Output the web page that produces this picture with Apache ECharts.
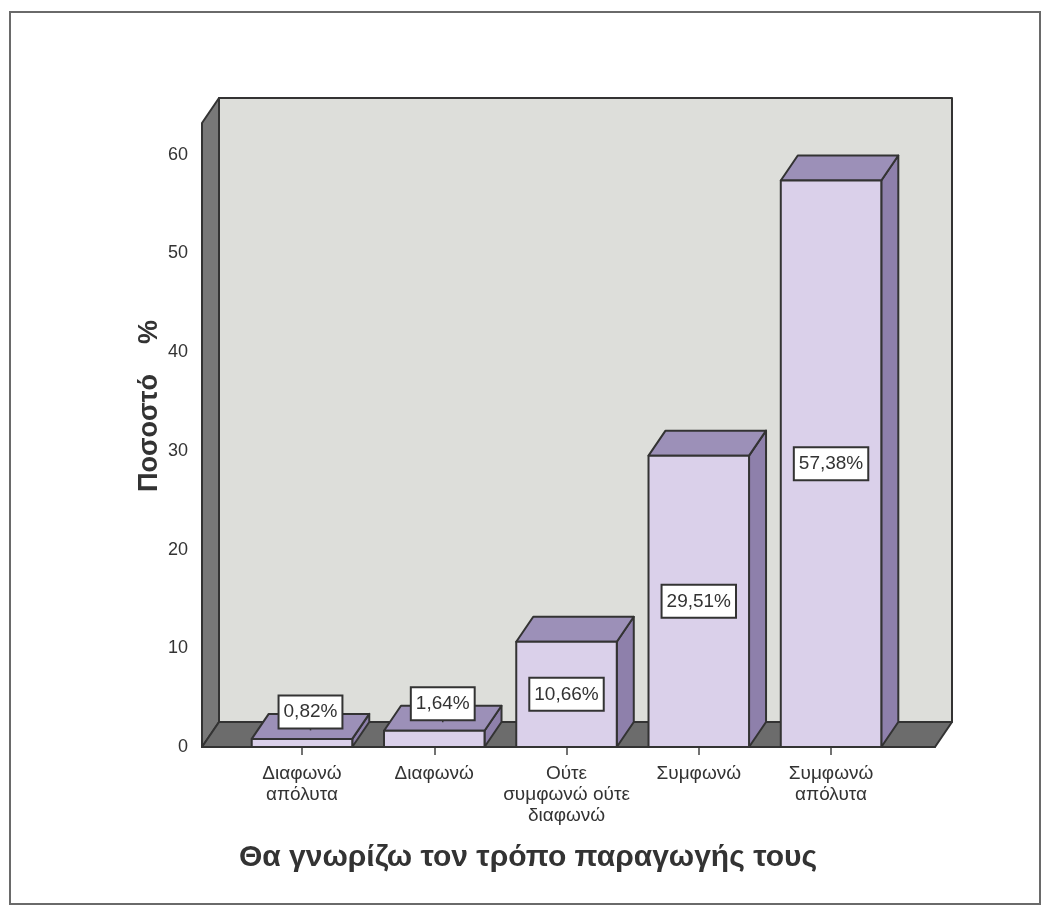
<!DOCTYPE html>
<html>
<head>
<meta charset="utf-8">
<script src="https://cdn.jsdelivr.net/npm/echarts@6/dist/echarts.min.js"></script>
<style>
  html, body { margin: 0; padding: 0; background: #ffffff; }
  #chart { width: 1052px; height: 916px; }
</style>
</head>
<body>
<div id="chart"></div>
<script>
// Response categories, their percentages and the printed value labels
const categories = ['Διαφωνώ\nαπόλυτα', 'Διαφωνώ', 'Ούτε\nσυμφωνώ ούτε\nδιαφωνώ', 'Συμφωνώ', 'Συμφωνώ\nαπόλυτα'];
const percentages = [0.82, 1.64, 10.66, 29.51, 57.38];
const valueLabels = ['0,82%', '1,64%', '10,66%', '29,51%', '57,38%'];
const yTicks = [0, 10, 20, 30, 40, 50, 60];
const xTitle = 'Θα γνωρίζω τον τρόπο παραγωγής τους';
const yTitle = 'Ποσοστό    %';

// Axis extents (category index units on x, percent on y)
const X_MIN = -0.756, X_MAX = 4.786, Y_MAX = 63.2;
// 3D depth offset of the walls and bars, in pixels
const DX = 17, DY = -25;
const BAR_W = 0.76;
const FONT = "'Liberation Sans', Arial, sans-serif";
const INK = '#333333';

const chart = echarts.init(document.getElementById('chart'), null, { renderer: 'canvas' });

function shift(p) { return [p[0] + DX, p[1] + DY]; }

// Back wall, left wall and floor of the 3D box
function renderWalls(params, api) {
  const fl = api.coord([X_MIN, 0]);
  const fr = api.coord([X_MAX, 0]);
  const tl = api.coord([X_MIN, Y_MAX]);
  const edge = { stroke: INK, lineWidth: 2, lineJoin: 'round' };
  return {
    type: 'group',
    children: [
      { type: 'rect',
        shape: { x: fl[0] + DX, y: tl[1] + DY, width: fr[0] - fl[0], height: fl[1] - tl[1] },
        style: Object.assign({ fill: '#dddeda' }, edge) },
      { type: 'polygon',
        shape: { points: [fl, tl, shift(tl), shift(fl)] },
        style: Object.assign({ fill: '#787878' }, edge) },
      { type: 'polygon',
        shape: { points: [fl, fr, shift(fr), shift(fl)] },
        style: Object.assign({ fill: '#6c6c6c' }, edge) }
    ]
  };
}

// One 3D bar: side face, top face, front face and its boxed value label
function renderBar(params, api) {
  const i = api.value(0);
  const v = api.value(1);
  const base = api.coord([i, 0]);
  const top = api.coord([i, v]);
  const hw = api.size([BAR_W, 0])[0] / 2;
  const L = base[0] - hw, R = base[0] + hw, T = top[1], B = base[1];
  const edge = { stroke: INK, lineWidth: 2, lineJoin: 'round' };
  const children = [
    { type: 'polygon',
      shape: { points: [[R, T], [R + DX, T + DY], [R + DX, B + DY], [R, B]] },
      style: Object.assign({ fill: '#8e80ab' }, edge) },
    { type: 'polygon',
      shape: { points: [[L, T], [R, T], [R + DX, T + DY], [L + DX, T + DY]] },
      style: Object.assign({ fill: '#9c90b8' }, edge) },
    { type: 'rect',
      shape: { x: L, y: T, width: R - L, height: B - T },
      style: Object.assign({ fill: '#dad0ea' }, edge) }
  ];
  let lx = base[0], ly = (T + B) / 2;
  if (B - T < 45) {
    // short bars carry the label above the top face
    lx = base[0] + DX / 2;
    ly = T - 27;
    children.push({ type: 'line',
      shape: { x1: lx, y1: ly + 14, x2: lx, y2: T + DY / 2 + 4 },
      style: { stroke: INK, lineWidth: 1.5 } });
  }
  children.push({ type: 'text',
    x: lx, y: ly,
    style: {
      text: valueLabels[params.dataIndex],
      font: '19px ' + FONT, fill: INK,
      align: 'center', verticalAlign: 'middle',
      backgroundColor: '#ffffff', borderColor: INK, borderWidth: 2,
      padding: [6, 4, 5, 4], lineHeight: 20
    } });
  return { type: 'group', children: children };
}

const option = {
  backgroundColor: '#ffffff',
  animation: false,
  grid: { left: 202, right: 117, top: 123, bottom: 169, containLabel: false, outerBoundsMode: 'none' },
  xAxis: {
    type: 'value', min: X_MIN, max: X_MAX,
    axisLine: { show: true, onZero: false, lineStyle: { color: INK, width: 2 } },
    axisTick: { show: true, customValues: [0, 1, 2, 3, 4], length: 8, lineStyle: { color: '#444', width: 1.5 } },
    axisLabel: {
      customValues: [0, 1, 2, 3, 4],
      formatter: function (v) { return categories[Math.round(v)]; },
      fontFamily: FONT, fontSize: 19, color: INK, lineHeight: 21, margin: 16, align: 'center'
    },
    splitLine: { show: false }
  },
  yAxis: {
    type: 'value', min: 0, max: Y_MAX,
    axisLine: { show: true, lineStyle: { color: INK, width: 2 } },
    axisTick: { show: true, customValues: yTicks, length: 13, lineStyle: { color: '#444', width: 1.5 } },
    axisLabel: { customValues: yTicks, fontFamily: FONT, fontSize: 18, color: INK, margin: 14 },
    splitLine: { show: false }
  },
  series: [
    { type: 'custom', name: 'walls', clip: false, z: 1,
      data: [[0, 0]], renderItem: renderWalls, silent: true },
    { type: 'custom', name: 'Ποσοστό', clip: false, z: 3,
      data: percentages.map(function (v, i) { return [i, v]; }),
      encode: { x: 0, y: 1 }, renderItem: renderBar }
  ],
  graphic: [
    { type: 'rect', z: -1, silent: true,
      shape: { x: 10, y: 12, width: 1030, height: 892 },
      style: { fill: 'none', stroke: '#6a6a6a', lineWidth: 2 } },
    { type: 'text', x: 150, y: 406, rotation: Math.PI / 2,
      style: { text: yTitle, font: 'bold 27px ' + FONT, fill: INK, align: 'center', verticalAlign: 'middle' } },
    { type: 'text', x: 528, y: 858,
      style: { text: xTitle, font: 'bold 30px ' + FONT, fill: INK, align: 'center', verticalAlign: 'middle' } }
  ]
};

chart.setOption(option);
</script>
</body>
</html>
